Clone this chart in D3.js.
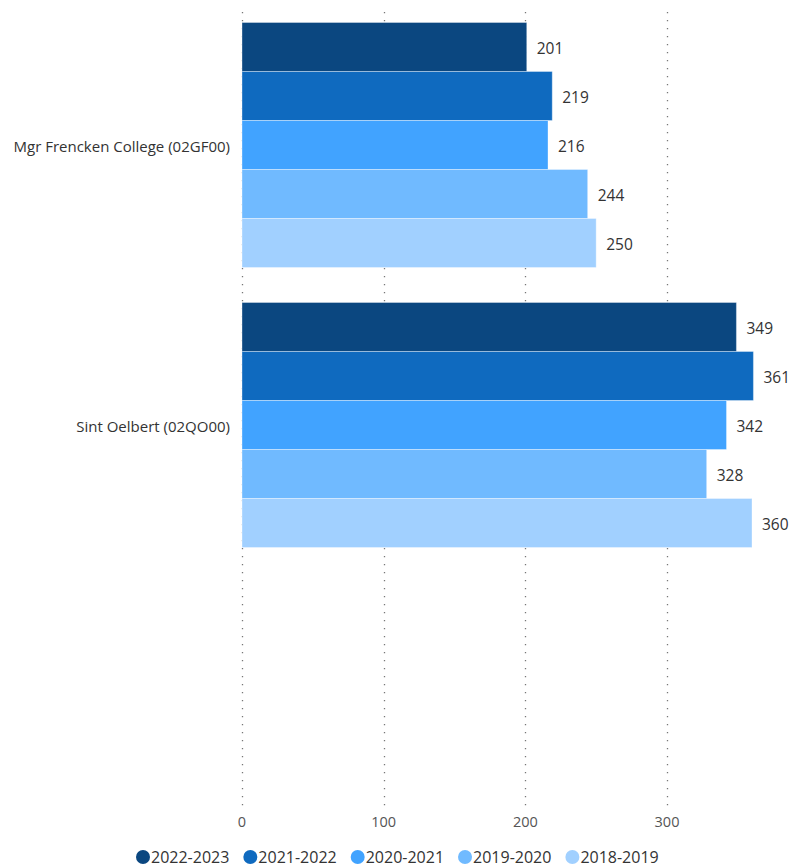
<!DOCTYPE html>
<html><head><meta charset="utf-8">
<script src="https://cdn.jsdelivr.net/npm/d3@7"></script>
<style>body{margin:0;background:#fff;} svg{display:block;font-family:"Segoe UI","Open Sans",sans-serif;}</style>
</head><body>
<svg id="chart" width="792" height="868"></svg>
<script>
const categories = ["Mgr Frencken College (02GF00)", "Sint Oelbert (02QO00)"];
const seriesNames = ["2022-2023", "2021-2022", "2020-2021", "2019-2020", "2018-2019"];
const values2022_2023 = [201, 349];
const values2021_2022 = [219, 361];
const values2020_2021 = [216, 342];
const values2019_2020 = [244, 328];
const values2018_2019 = [250, 360];
const xTicks = [0, 100, 200, 300];
const colors = ["#0B4780", "#0F6ABF", "#41A3FF", "#70BAFF", "#A1D0FF"];

const seriesValues = [values2022_2023, values2021_2022, values2020_2021, values2019_2020, values2018_2019];
const svg = d3.select("#chart");
const x = d3.scaleLinear().domain([0, 300]).range([242, 667]);
const y0 = d3.scaleBand().domain(categories).range([5, 565]).paddingInner(0.125).paddingOuter(0.0625);
const y1 = d3.scaleBand().domain(seriesNames).range([0, y0.bandwidth()]);

// gridlines
const grid = svg.append("g");
grid.selectAll("line").data(xTicks).join("line")
  .attr("x1", d => Math.round(x(d)) + 0.5).attr("x2", d => Math.round(x(d)) + 0.5)
  .attr("y1", 12).attr("y2", 808)
  .attr("stroke", "#777").attr("stroke-width", 1.3).attr("stroke-dasharray", "1.3,6.7");

// axis labels
svg.append("g").selectAll("text").data(xTicks).join("text")
  .attr("x", d => x(d)).attr("y", 822).attr("dy", "0.35em").attr("text-anchor", "middle")
  .attr("font-size", 14.5).attr("fill", "#555").text(d => d);

// bars
categories.forEach((cat, ci) => {
  const g = svg.append("g").attr("transform", `translate(0,${y0(cat)})`);
  seriesNames.forEach((s, si) => {
    const v = seriesValues[si][ci];
    g.append("rect").attr("x", x(0)).attr("y", y1(s)).attr("width", x(v) - x(0)).attr("height", y1.bandwidth())
      .attr("fill", colors[si]).attr("stroke", "rgba(255,255,255,0.35)").attr("stroke-width", 1);
    g.append("text").attr("x", x(v) + 10).attr("y", y1(s) + y1.bandwidth() / 2).attr("dy", "0.42em")
      .attr("font-size", 15.5).attr("fill", "#333").text(v);
  });
  svg.append("text").attr("x", 230).attr("y", y0(cat) + y0.bandwidth() / 2).attr("dy", "0.45em")
    .attr("text-anchor", "end").attr("font-size", 15).attr("fill", "#333").text(cat);
});

// legend
const legend = svg.append("g");
let lx = 136;
seriesNames.forEach((s, i) => {
  legend.append("circle").attr("cx", lx + 7).attr("cy", 857).attr("r", 7).attr("fill", colors[i]);
  const t = legend.append("text").attr("x", lx + 15).attr("y", 857).attr("dy", "0.35em")
    .attr("font-size", 16).attr("fill", "#333").text(s);
  lx += 15 + t.node().getComputedTextLength() + 14;
});
</script>
</body></html>
